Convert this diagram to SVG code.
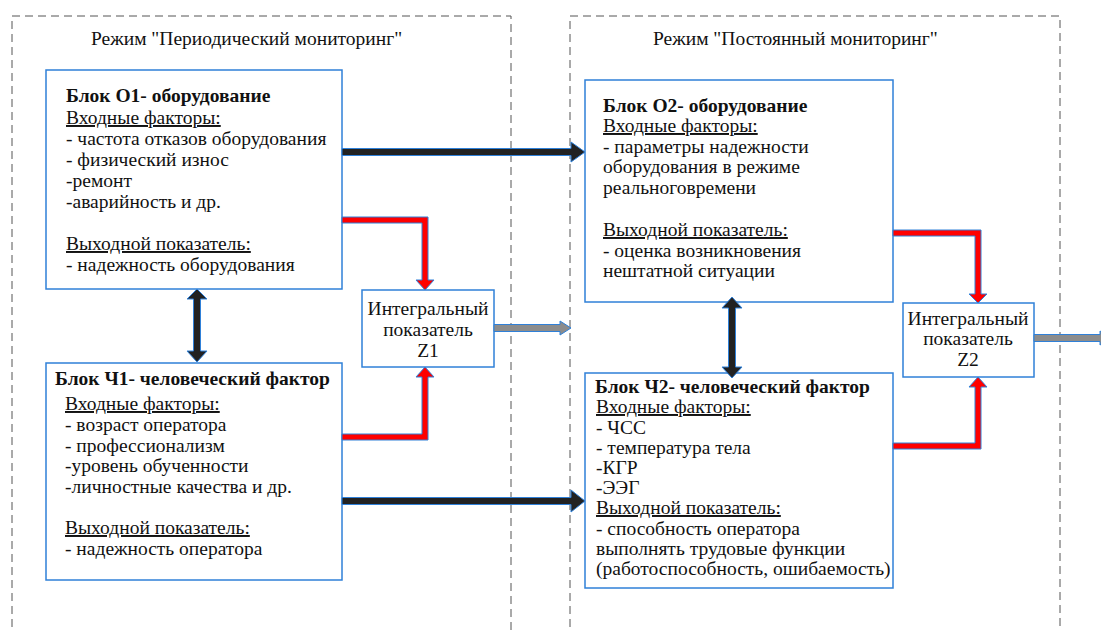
<svg xmlns="http://www.w3.org/2000/svg" width="1101" height="630" viewBox="0 0 1101 630">
<style>
.frame{fill:none;stroke:#555;stroke-width:1;stroke-dasharray:8 5}
.box{fill:#fff;stroke:#2F80D8;stroke-width:1.5}
.blk{fill:#222;stroke:#2F80D8;stroke-width:1}
.red{fill:#F00;stroke:#2F80D8;stroke-width:1}
.gry{fill:#8C8C8C;stroke:#2F80D8;stroke-width:1}
</style>
<rect width="1101" height="630" fill="#fff"/>
<g id="frames">
<path class="frame" d="M12,640 V16 H511 V640"/>
<path class="frame" d="M570,640 V16 H1060 V640"/>
</g>
<g id="titles" font-family="Liberation Serif, serif" font-size="19.5" fill="#111">
<text font-family="Liberation Serif, serif" font-size="19.5" x="91" y="45">Режим "Периодический мониторинг"</text>
<text font-family="Liberation Serif, serif" font-size="19.5" x="653" y="45">Режим "Постоянный мониторинг"</text>
</g>
<g id="O1" font-family="Liberation Serif, serif" font-size="19.5" fill="#111">
<rect class="box" x="46" y="70" width="296" height="219"/>
<text font-family="Liberation Serif, serif" font-size="19.5" font-weight="bold" x="66" y="102">Блок О1- оборудование</text>
<text font-family="Liberation Serif, serif" font-size="19.5" text-decoration="underline" x="66" y="124">Входные факторы:</text>
<text font-family="Liberation Serif, serif" font-size="19.5" x="66" y="145">- частота отказов оборудования</text>
<text font-family="Liberation Serif, serif" font-size="19.5" x="66" y="166">- физический износ</text>
<text font-family="Liberation Serif, serif" font-size="19.5" x="66" y="187">-ремонт</text>
<text font-family="Liberation Serif, serif" font-size="19.5" x="66" y="208">-аварийность и др.</text>
<text font-family="Liberation Serif, serif" font-size="19.5" text-decoration="underline" x="66" y="250">Выходной показатель:</text>
<text font-family="Liberation Serif, serif" font-size="19.5" x="66" y="271">- надежность оборудования</text>
</g>
<g id="CH1" font-family="Liberation Serif, serif" font-size="19.5" fill="#111">
<rect class="box" x="46" y="363" width="296" height="217"/>
<text font-family="Liberation Serif, serif" font-size="19.5" font-weight="bold" x="55" y="385">Блок Ч1- человеческий фактор</text>
<text font-family="Liberation Serif, serif" font-size="19.5" text-decoration="underline" x="65" y="410">Входные факторы:</text>
<text font-family="Liberation Serif, serif" font-size="19.5" x="65" y="431">- возраст оператора</text>
<text font-family="Liberation Serif, serif" font-size="19.5" x="65" y="452">- профессионализм</text>
<text font-family="Liberation Serif, serif" font-size="19.5" x="65" y="472">-уровень обученности</text>
<text font-family="Liberation Serif, serif" font-size="19.5" x="65" y="493">-личностные качества и др.</text>
<text font-family="Liberation Serif, serif" font-size="19.5" text-decoration="underline" x="65" y="534">Выходной показатель:</text>
<text font-family="Liberation Serif, serif" font-size="19.5" x="65" y="555">- надежность оператора</text>
</g>
<g id="Z1" font-family="Liberation Serif, serif" font-size="19.5" fill="#111" text-anchor="middle">
<rect class="box" x="362" y="290" width="132" height="77"/>
<text font-family="Liberation Serif, serif" font-size="19.5" x="428" y="315">Интегральный</text>
<text font-family="Liberation Serif, serif" font-size="19.5" x="428" y="336">показатель</text>
<text font-family="Liberation Serif, serif" font-size="19.5" x="428" y="357">Z1</text>
</g>
<g id="O2" font-family="Liberation Serif, serif" font-size="19.5" fill="#111">
<rect class="box" x="585" y="80" width="308" height="222"/>
<text font-family="Liberation Serif, serif" font-size="19.5" font-weight="bold" x="603" y="112">Блок О2- оборудование</text>
<text font-family="Liberation Serif, serif" font-size="19.5" text-decoration="underline" x="603" y="132">Входные факторы:</text>
<text font-family="Liberation Serif, serif" font-size="19.5" x="603" y="153">- параметры надежности</text>
<text font-family="Liberation Serif, serif" font-size="19.5" x="603" y="173">оборудования в режиме</text>
<text font-family="Liberation Serif, serif" font-size="19.5" x="603" y="194">реальноговремени</text>
<text font-family="Liberation Serif, serif" font-size="19.5" text-decoration="underline" x="603" y="236">Выходной показатель:</text>
<text font-family="Liberation Serif, serif" font-size="19.5" x="603" y="257">- оценка возникновения</text>
<text font-family="Liberation Serif, serif" font-size="19.5" x="603" y="277">нештатной ситуации</text>
</g>
<g id="CH2" font-family="Liberation Serif, serif" font-size="19.5" fill="#111">
<rect class="box" x="585" y="373" width="308" height="215"/>
<text font-family="Liberation Serif, serif" font-size="19.5" font-weight="bold" x="595" y="393">Блок Ч2- человеческий фактор</text>
<text font-family="Liberation Serif, serif" font-size="19.5" text-decoration="underline" x="596" y="413">Входные факторы:</text>
<text font-family="Liberation Serif, serif" font-size="19.5" x="596" y="434">- ЧСС</text>
<text font-family="Liberation Serif, serif" font-size="19.5" x="596" y="454">- температура тела</text>
<text font-family="Liberation Serif, serif" font-size="19.5" x="596" y="474">-КГР</text>
<text font-family="Liberation Serif, serif" font-size="19.5" x="596" y="494">-ЭЭГ</text>
<text font-family="Liberation Serif, serif" font-size="19.5" text-decoration="underline" x="596" y="514">Выходной показатель:</text>
<text font-family="Liberation Serif, serif" font-size="19.5" x="596" y="535">- способность оператора</text>
<text font-family="Liberation Serif, serif" font-size="19.5" x="596" y="555">выполнять трудовые функции</text>
<text font-family="Liberation Serif, serif" font-size="19.5" x="596" y="575">(работоспособность, ошибаемость)</text>
</g>
<g id="Z2" font-family="Liberation Serif, serif" font-size="19.5" fill="#111" text-anchor="middle">
<rect class="box" x="903" y="303" width="131" height="74"/>
<text font-family="Liberation Serif, serif" font-size="19.5" x="968" y="325">Интегральный</text>
<text font-family="Liberation Serif, serif" font-size="19.5" x="968" y="345">показатель</text>
<text font-family="Liberation Serif, serif" font-size="19.5" x="968" y="366">Z2</text>
</g>
<g id="connectors">
<path class="blk" d="M342,148.5 H571 V142 L585,152 L571,162 V155.5 H342 Z"/>
<path class="red" d="M342,217 H428 V280 H434 L425,290 L416,280 H422 V223 H342 Z"/>
<path class="red" d="M342,440 H428 V377 H434 L425,367 L416,377 H422 V434 H342 Z"/>
<path class="blk" d="M342,497.5 H571 V490 L585,501 L571,512 V504.5 H342 Z"/>
<path class="gry" d="M494,324.5 H560 V321 L571,328 L560,335 V331.5 H494 Z"/>
<path class="blk" d="M197,289 L207,299 H200.5 V351 H207 L197,362 L187,351 H193.5 V299 H187 Z"/>
<path class="blk" d="M732,297 L742,308 H735.5 V367 H742 L732,378 L722,367 H728.5 V308 H722 Z"/>
<path class="red" d="M893,230 H981 V294 H987 L978,303 L969,294 H975 V236 H893 Z"/>
<path class="red" d="M893,449 H981 V387 H987 L978,377 L969,387 H975 V443 H893 Z"/>
<path class="gry" d="M1034,334.5 H1100 V331 L1111,338 L1100,345 V341.5 H1034 Z"/>
</g>
</svg>
